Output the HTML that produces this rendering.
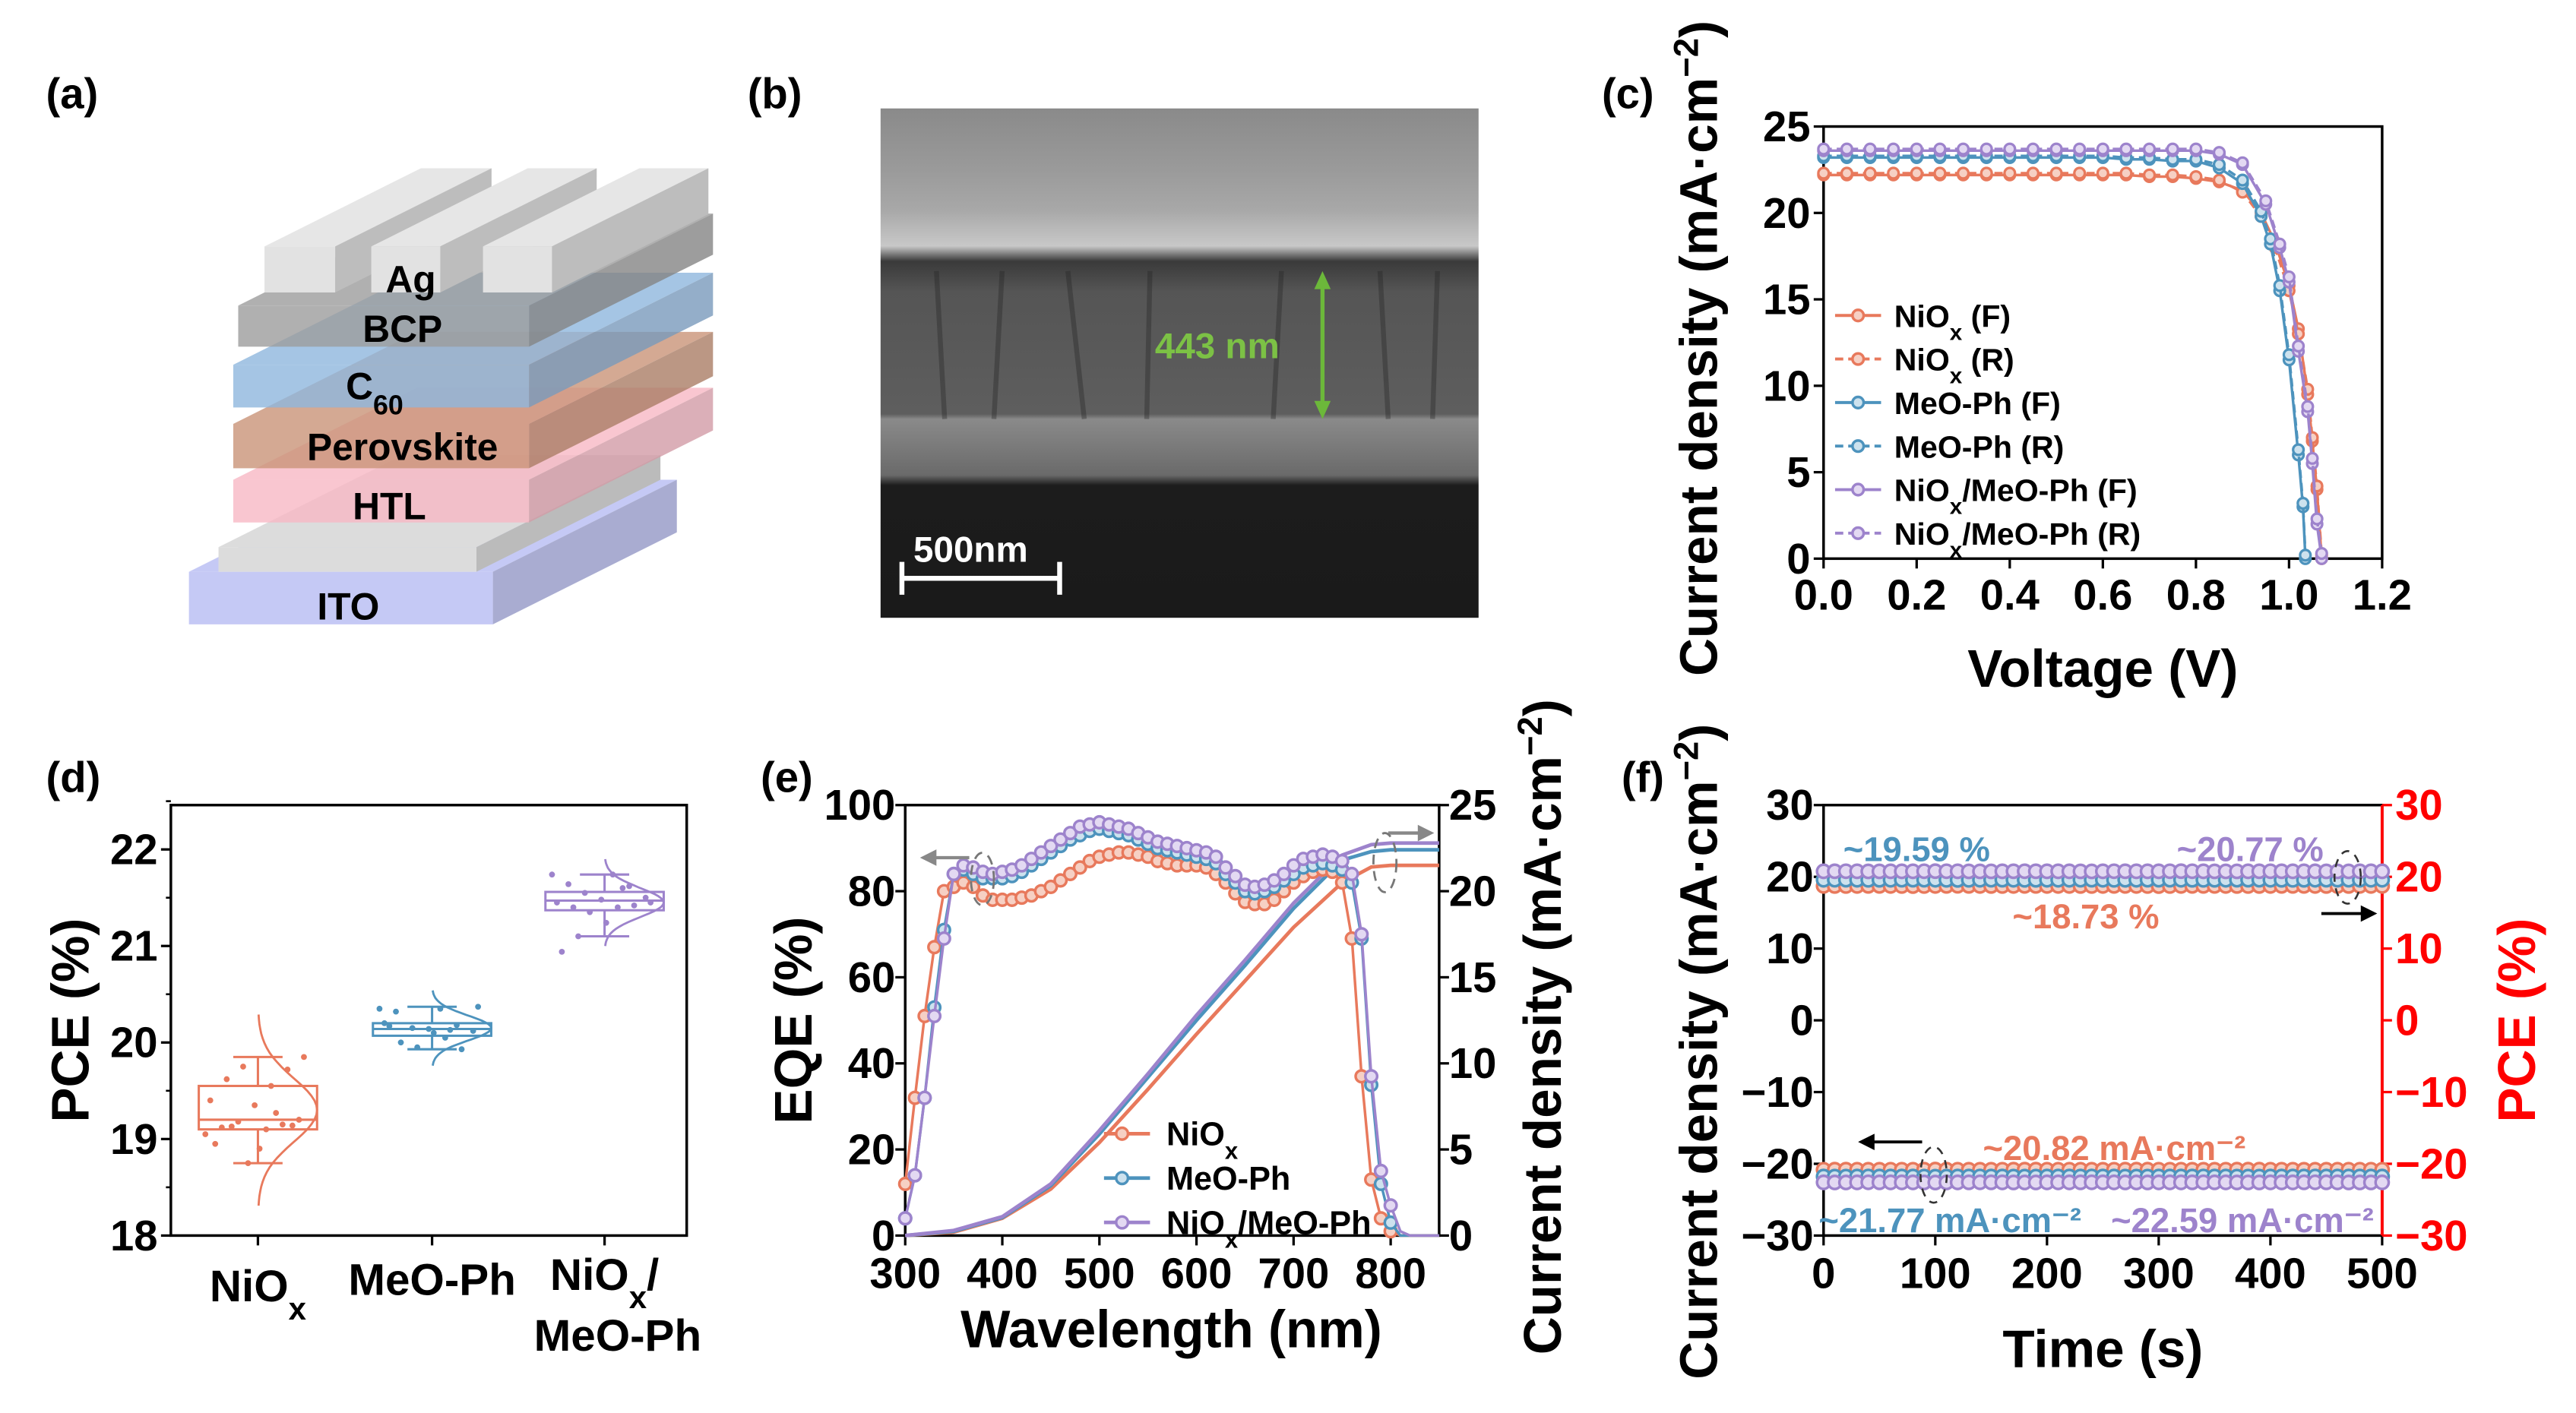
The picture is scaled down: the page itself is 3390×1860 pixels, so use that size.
<!DOCTYPE html>
<html><head><meta charset="utf-8">
<style>
html,body{margin:0;padding:0;background:#fff;}
svg{display:block;}
text{font-family:"Liberation Sans",Arial,sans-serif;font-weight:bold;}
</style></head>
<body>
<svg id="fig" xmlns="http://www.w3.org/2000/svg" width="3390" height="1860" viewBox="0 0 1568 860" preserveAspectRatio="none">
<defs>
<linearGradient id="semg" x1="0" y1="0" x2="0" y2="1">
<stop offset="0" stop-color="#8a8a8a"/><stop offset="0.12" stop-color="#9a9a9a"/>
<stop offset="0.2" stop-color="#a8a8a8"/><stop offset="0.27" stop-color="#c8c8c8"/>
<stop offset="0.3" stop-color="#3a3a3a"/><stop offset="0.36" stop-color="#555"/>
<stop offset="0.6" stop-color="#5e5e5e"/><stop offset="0.61" stop-color="#8a8a8a"/>
<stop offset="0.72" stop-color="#6a6a6a"/><stop offset="0.74" stop-color="#1c1c1c"/>
<stop offset="1" stop-color="#1a1a1a"/>
</linearGradient>
</defs>

<text x="28" y="66" font-size="26">(a)</text>
<text x="455" y="66" font-size="26">(b)</text>
<text x="975" y="66" font-size="26">(c)</text>
<text x="28" y="482" font-size="26">(d)</text>
<text x="463" y="482" font-size="26">(e)</text>
<text x="987" y="482" font-size="26">(f)</text>

<g id="stack"></g>

<g>
<rect x="536" y="66" width="364" height="310" fill="url(#semg)"/>
<g opacity="0.35" stroke="#222" stroke-width="3">
<line x1="570" y1="165" x2="575" y2="255"/><line x1="610" y1="165" x2="605" y2="255"/>
<line x1="650" y1="165" x2="660" y2="255"/><line x1="700" y1="165" x2="698" y2="255"/>
<line x1="780" y1="165" x2="775" y2="255"/><line x1="840" y1="165" x2="845" y2="255"/>
<line x1="875" y1="165" x2="872" y2="255"/>
</g>
<line x1="805" y1="170" x2="805" y2="250" stroke="#6cb83a" stroke-width="2.5"/>
<polygon points="805,165 800,176 810,176" fill="#6cb83a"/>
<polygon points="805,255 800,244 810,244" fill="#6cb83a"/>
<text x="703" y="218" font-size="22" fill="#7cc145">443 nm</text>
<text x="556" y="342" font-size="22" fill="#fff">500nm</text>
<line x1="549" y1="352" x2="645" y2="352" stroke="#fff" stroke-width="3"/>
<line x1="549" y1="342" x2="549" y2="362" stroke="#fff" stroke-width="3"/>
<line x1="645" y1="342" x2="645" y2="362" stroke="#fff" stroke-width="3"/>
</g>

<g id="pc"></g>
<g id="pd"></g>
<g id="pe"></g>
<g id="pf"></g>
</svg>

<script>
const jvV_flat = [0,0.05,0.1,0.15,0.2,0.25,0.3,0.35,0.4,0.45,0.5,0.55,0.6,0.65,0.7,0.75,0.8];
const jvV_NiOx = [0.85,0.9,0.94,0.97,1.0,1.02,1.04,1.05,1.06,1.07];
const jvJ_NiOxF = [22.2,22.2,22.2,22.2,22.2,22.2,22.2,22.2,22.2,22.2,22.2,22.2,22.2,22.2,22.1,22.1,22.0, 21.8,21.3,20.0,18.3,15.8,13.3,9.5,6.8,4.0,0];
const jvJ_NiOxR = [22.3,22.3,22.3,22.3,22.3,22.3,22.3,22.3,22.3,22.3,22.3,22.3,22.3,22.3,22.2,22.2,22.1, 21.9,21.2,19.8,18.0,15.5,13.0,9.8,7.0,4.2,0.2];
const jvV_MeO = [0.85,0.9,0.94,0.96,0.98,1.0,1.02,1.03,1.035];
const jvJ_MeOF = [23.2,23.2,23.2,23.2,23.2,23.2,23.2,23.2,23.2,23.2,23.2,23.2,23.2,23.1,23.1,23.0,23.0, 22.6,21.7,19.8,18.2,15.5,11.5,6.0,3.0,0];
const jvJ_MeOR = [23.3,23.3,23.3,23.3,23.3,23.3,23.3,23.3,23.3,23.3,23.3,23.3,23.3,23.2,23.2,23.1,23.1, 22.8,21.9,20.1,18.5,15.8,11.8,6.3,3.2,0.2];
const jvV_Both = [0.85,0.9,0.95,0.98,1.0,1.02,1.04,1.05,1.06,1.07];
const jvJ_BothF = [23.6,23.6,23.6,23.6,23.6,23.6,23.6,23.6,23.6,23.6,23.6,23.6,23.6,23.6,23.6,23.6,23.6, 23.4,22.8,20.5,18.0,16.0,12.0,8.5,5.5,2.0,0];
const jvJ_BothR = [23.7,23.7,23.7,23.7,23.7,23.7,23.7,23.7,23.7,23.7,23.7,23.7,23.7,23.7,23.7,23.7,23.7, 23.5,22.9,20.7,18.2,16.3,12.3,8.8,5.8,2.3,0.3];
const jvLegend = ["NiO|x| (F)","NiO|x| (R)","MeO-Ph (F)","MeO-Ph (R)","NiO|x|/MeO-Ph (F)","NiO|x|/MeO-Ph (R)"];
const jvXTicks = [0,0.2,0.4,0.6,0.8,1.0,1.2];
const jvYTicks = [0,5,10,15,20,25];

const pceCats = ["NiOx","MeO-Ph","NiOx/MeO-Ph"];
const pceMin = [18.75,19.93,21.1];
const pceQ1 = [19.1,20.07,21.37];
const pceMed = [19.2,20.14,21.47];
const pceQ3 = [19.55,20.2,21.56];
const pceMax = [19.85,20.37,21.74];
const pceMean = [19.3,20.15,21.45];
const pceSd = [0.33,0.13,0.15];
const pcePts0 = [19.05,19.1,19.12,19.15,19.18,19.2,19.35,19.4,19.55,19.62,19.72,19.75,19.85,18.9,18.95,19.27,19.13,19.14,18.75];
const pcePts1 = [20.35,20.35,20.32,20.18,20.15,20.12,20.14,20.2,20.05,20.0,19.93,19.95,20.37,20.1,20.17,20.13];
const pcePts2 = [21.74,21.74,21.64,21.62,21.55,21.5,21.48,21.45,21.4,21.4,21.42,21.35,21.45,21.24,20.94,21.6,21.1];
const pceYTicks = [18,19,20,21,22];

const eqeWl = [300,310,320,330,340,350,360,370,380,390,400,410,420,430,440,450,460,470,480,490,500,510,520,530,540,550,560,570,580,590,600,610,620,630,640,650,660,670,680,690,700,710,720,730,740,750,760,770,780,790,800,810,820,830,840,850];
const eqeNiOx = [12,32,51,67,80,81,82,81,79,78,78,78,78.5,79,80,81,82.5,84,85.5,87,88,88.5,89,89,88.5,88,87,86.5,86,86,86,85.5,84,82,79.5,77.5,77,77,78,80,82,83.5,84.5,85,84.5,82,69,37,13,4,1,0,0,0,0,0];
const eqeMeO = [4,14,32,53,71,84,85,84,83,83,83,83.5,84.5,86,87.5,89,90.5,92,93,94,94.5,94,93.5,93,92,91,90,89.5,89,88.5,88,87.5,86.5,84,82,80,79.5,80,81,82.5,84,85.5,86,86.5,86,85,82,69,35,12,3,0,0,0,0,0];
const eqeBoth = [4,14,32,51,69,84,86,85.5,84.5,84,84.5,85,86,87.5,89,90.5,92,93.5,95,95.5,96,95.5,95,94.5,93.5,92.5,91.5,91,90.5,90,89.5,89,88,85.5,83.5,81.5,81,81.5,82.5,84,86,87.5,88,88.5,88,87,84,70,37,15,7,1,0,0,0,0];
const jscWl = [300,350,400,450,500,550,600,650,700,750,780,800,850];
const jscNiOx = [0,0.2,1.0,2.7,5.4,8.5,11.7,14.8,17.9,20.5,21.4,21.5,21.5];
const jscMeO = [0,0.25,1.05,2.9,5.9,9.2,12.5,15.7,19.0,21.8,22.3,22.4,22.4];
const jscBoth = [0,0.3,1.1,3.0,6.1,9.4,12.8,16.0,19.3,22.1,22.7,22.8,22.8];
const eqeXTicks = [300,400,500,600,700,800];
const eqeYTicks = [0,20,40,60,80,100];
const jscYTicks = [0,5,10,15,20,25];

const stTime = [0,20,40,60,80,100,120,140,160,180,200,220,240,260,280,300,320,340,360,380,400,420,440,460,480,500];
const stPceNiOx = [18.73,18.72,18.74,18.73,18.71,18.73,18.75,18.73,18.72,18.74,18.73,18.73,18.72,18.74,18.73,18.71,18.73,18.74,18.73,18.72,18.73,18.74,18.73,18.72,18.73,18.73];
const stPceMeO = [19.59,19.6,19.58,19.59,19.6,19.59,19.57,19.59,19.6,19.58,19.59,19.59,19.6,19.58,19.59,19.6,19.59,19.58,19.59,19.6,19.59,19.58,19.59,19.6,19.59,19.59];
const stPceBoth = [20.77,20.78,20.76,20.77,20.77,20.79,20.77,20.76,20.77,20.78,20.77,20.77,20.76,20.78,20.77,20.77,20.79,20.77,20.76,20.77,20.78,20.77,20.77,20.76,20.77,20.77];
const stJNiOx = [-20.82,-20.81,-20.83,-20.82,-20.82,-20.8,-20.82,-20.83,-20.82,-20.81,-20.82,-20.82,-20.83,-20.82,-20.81,-20.82,-20.82,-20.83,-20.82,-20.81,-20.82,-20.82,-20.83,-20.82,-20.82,-20.82];
const stJMeO = [-21.77,-21.78,-21.76,-21.77,-21.77,-21.79,-21.77,-21.76,-21.77,-21.78,-21.77,-21.77,-21.76,-21.77,-21.78,-21.77,-21.77,-21.76,-21.77,-21.78,-21.77,-21.77,-21.76,-21.77,-21.77,-21.77];
const stJBoth = [-22.59,-22.6,-22.58,-22.59,-22.59,-22.61,-22.59,-22.58,-22.59,-22.6,-22.59,-22.59,-22.58,-22.59,-22.6,-22.59,-22.59,-22.58,-22.59,-22.6,-22.59,-22.59,-22.58,-22.59,-22.6,-22.59];
const stXTicks = [0,100,200,300,400,500];
const stYTicks = [-30,-20,-10,0,10,20,30];

const NS = "http://www.w3.org/2000/svg";
const C_OR = "#e8795c", C_BL = "#4d93bd", C_PU = "#9d83cc";
const TINT = {"#e8795c":"#f6d0c4","#4d93bd":"#cde2ee","#9d83cc":"#e3d9f2"};
const TF = 26, AF = 32;
function el(tag, attrs, parent){
  const e = document.createElementNS(NS, tag);
  for (const k in attrs) e.setAttribute(k, attrs[k]);
  parent.appendChild(e);
  return e;
}
function lin(d0,d1,r0,r1){ return v => r0 + (v-d0)*(r1-r0)/(d1-d0); }
function richText(parent, x, y, str, size, fill, anchor){
  const t = el("text", {x:x, y:y, "font-size":size, fill:fill||"#000", "text-anchor":anchor||"start"}, parent);
  const parts = str.split("|");
  parts.forEach((p,i)=>{
    if(!p) return;
    const ts = el("tspan", {}, t);
    if(i%2===1){ ts.setAttribute("baseline-shift","sub"); ts.setAttribute("font-size", size*0.72); }
    ts.textContent = p;
  });
  return t;
}
function frame(g, x0,y0,x1,y1){
  el("rect",{x:x0,y:y0,width:x1-x0,height:y1-y0,fill:"none",stroke:"#000","stroke-width":1.6},g);
}

(function(){
  const g = document.getElementById("stack");
  const dx=112, dy=-56;
  function slab(x0,x1,yt,yb,fill,op,name){
    const s = el("g",{},g);
    
    
    el("polygon",{points:`${x0},${yt} ${x1},${yt} ${x1+dx},${yt+dy} ${x0+dx},${yt+dy}`,fill:fill,opacity:op},s);
    el("polygon",{points:`${x1},${yt} ${x1+dx},${yt+dy} ${x1+dx},${yb+dy} ${x1},${yb}`,fill:fill,opacity:op,style:"filter:brightness(0.85)"},s);
    el("rect",{x:x0,y:yt,width:x1-x0,height:yb-yt,fill:fill,opacity:op},s);
  }
  slab(115,300,348,380,"#c2c6f4",0.95,"layer-ito");
  slab(133,290,333,348,"#dcdcdc",1,"ito-contact");
  slab(142,322,292,318,"#f8b8c4",0.8,"layer-htl");
  slab(142,322,258,285,"#c99478",0.8,"layer-perovskite");
  slab(142,322,222,248,"#8fb6dd",0.8,"layer-c60");
  slab(145,322,186,211,"#9c9c9c",0.8,"layer-bcp");
  [[161,204],[226,268],[294,336]].forEach((b,i)=>{
    const s = el("g",{},g);
    
    
    el("polygon",{points:`${b[0]},150 ${b[1]},150 ${b[1]+dx*0.85},${150+dy*0.85} ${b[0]+dx*0.85},${150+dy*0.85}`,fill:"#e6e6e6"},s);
    el("polygon",{points:`${b[1]},150 ${b[1]+dx*0.85},${150+dy*0.85} ${b[1]+dx*0.85},${178+dy*0.85} ${b[1]},178`,fill:"#bdbdbd"},s);
    el("rect",{x:b[0],y:150,width:b[1]-b[0],height:28,fill:"#e2e2e2"},s);
  });
  const labs = [["Ag",250,178],["BCP",245,208],["C|60|",228,243],["Perovskite",245,280],["HTL",237,316],["ITO",212,377]];
  labs.forEach(l=>{ const t=richText(g,l[1],l[2],l[0],23,"#000","middle");   });
})();

(function(){
  const g = document.getElementById("pc");
  const X0=1110,X1=1450,Y0=77,Y1=340;
  const sx = lin(0,1.2,X0,X1), sy = lin(0,25,Y1,Y0);
  frame(g,X0,Y0,X1,Y1);
  jvXTicks.forEach(v=>{
    el("line",{x1:sx(v),y1:Y1,x2:sx(v),y2:Y1+6,stroke:"#000","stroke-width":1.5},g);
    const t = el("text",{x:sx(v),y:Y1+31,"font-size":TF,"text-anchor":"middle"},g);
     
    t.textContent = v.toFixed(1);
  });
  jvYTicks.forEach(v=>{
    el("line",{x1:X0-6,y1:sy(v),x2:X0,y2:sy(v),stroke:"#000","stroke-width":1.5},g);
    const t = el("text",{x:X0-8,y:sy(v)+9,"font-size":TF,"text-anchor":"end"},g);
     
    t.textContent = v;
  });
  const xt = el("text",{x:1280,y:418,"font-size":AF,"text-anchor":"middle"},g);
   
  xt.textContent = "Voltage (V)";
  const yt = el("text",{x:0,y:0,"font-size":AF,"text-anchor":"middle",transform:"translate(1045,212) rotate(-90)"},g);
   
  yt.innerHTML = 'Current density (mA·cm<tspan baseline-shift="super" font-size="21">−2</tspan>)';
  const series = [
    [jvV_flat.concat(jvV_NiOx), jvJ_NiOxF, C_OR, false],
    [jvV_flat.concat(jvV_NiOx), jvJ_NiOxR, C_OR, true],
    [jvV_flat.concat(jvV_MeO), jvJ_MeOF, C_BL, false],
    [jvV_flat.concat(jvV_MeO), jvJ_MeOR, C_BL, true],
    [jvV_flat.concat(jvV_Both), jvJ_BothF, C_PU, false],
    [jvV_flat.concat(jvV_Both), jvJ_BothR, C_PU, true]];
  series.forEach((s,si)=>{
    const V=s[0], J=s[1];
    const d = V.map((v,i)=>(i?"L":"M")+sx(v).toFixed(1)+","+sy(J[i]).toFixed(1)).join(" ");
    const p = el("path",{d:d,fill:"none",stroke:s[2],"stroke-width":1.6,"stroke-dasharray":s[3]?"5,3":"none"},g);
     
    V.forEach((v,i)=>{
      const c = el("circle",{cx:sx(v),cy:sy(J[i]),r:3.2,fill:TINT[s[2]],stroke:s[2],"stroke-width":1.5},g);
       
    });
  });
  const cols=[C_OR,C_OR,C_BL,C_BL,C_PU,C_PU];
  jvLegend.forEach((lab,i)=>{
    const y = 192 + i*26.5;
    const lg = el("g",{},g);
     
    el("line",{x1:1117,y1:y,x2:1145,y2:y,stroke:cols[i],"stroke-width":1.8,"stroke-dasharray":i%2?"5,3":"none"},lg);
    el("circle",{cx:1131,cy:y,r:3.4,fill:TINT[cols[i]],stroke:cols[i],"stroke-width":1.6},lg);
    richText(lg,1153,y+7,lab,19,"#000","start");
  });
})();

(function(){
  const g = document.getElementById("pd");
  const X0=104,X1=418,Y0=490,Y1=752;
  const sy = lin(18,22,Y1,517);
  const cx = [157,263,368];
  const cols=[C_OR,C_BL,C_PU];
  frame(g,X0,Y0,X1,Y1);
  pceYTicks.forEach(v=>{
    el("line",{x1:X0-6,y1:sy(v),x2:X0,y2:sy(v),stroke:"#000","stroke-width":1.5},g);
    el("line",{x1:X0-3,y1:sy(v+0.5),x2:X0,y2:sy(v+0.5),stroke:"#000","stroke-width":1.2},g);
    const t = el("text",{x:X0-8,y:sy(v)+9,"font-size":TF,"text-anchor":"end"},g);
     
    t.textContent = v;
  });
  const yt = el("text",{x:0,y:0,"font-size":AF,"text-anchor":"middle",transform:"translate(54,621) rotate(-90)"},g);
   
  yt.textContent = "PCE (%)";
  cx.forEach(x=>el("line",{x1:x,y1:Y1,x2:x,y2:Y1+6,stroke:"#000","stroke-width":1.5},g));
  let t = richText(g,cx[0],792,"NiO|x|",27,"#000","middle");  
  t = richText(g,cx[1],788,"MeO-Ph",27,"#000","middle");  
  t = richText(g,cx[2],785,"NiO|x|/",27,"#000","middle");  
  t = richText(g,cx[2]+8,822,"MeO-Ph",27,"#000","middle");  
  const pts=[pcePts0,pcePts1,pcePts2];
  pceCats.forEach((c,i)=>{
    const x=cx[i], col=cols[i], hw=36;
    const bg = el("g",{},g);
     
    el("line",{x1:x,y1:sy(pceMin[i]),x2:x,y2:sy(pceMax[i]),stroke:col,"stroke-width":1.4},bg);
    el("line",{x1:x-15,y1:sy(pceMin[i]),x2:x+15,y2:sy(pceMin[i]),stroke:col,"stroke-width":1.4},bg);
    el("line",{x1:x-15,y1:sy(pceMax[i]),x2:x+15,y2:sy(pceMax[i]),stroke:col,"stroke-width":1.4},bg);
    el("rect",{x:x-hw,y:sy(pceQ3[i]),width:2*hw,height:sy(pceQ1[i])-sy(pceQ3[i]),fill:"#fff",stroke:col,"stroke-width":1.4},bg);
    el("line",{x1:x-hw,y1:sy(pceMed[i]),x2:x+hw,y2:sy(pceMed[i]),stroke:col,"stroke-width":1.4},bg);
    pts[i].forEach((v,k)=>{
      const jx = x - hw + 4 + ((k*37)%(2*hw-8));
      const c2 = el("circle",{cx:jx,cy:sy(v),r:1.8,fill:col},bg);
       
    });
    let d="";
    const lo = pceMean[i]-3*pceSd[i], hi = pceMean[i]+3*pceSd[i];
    for(let k=0;k<=40;k++){
      const v = lo + (hi-lo)*k/40;
      const z=(v-pceMean[i])/pceSd[i];
      d += (k?"L":"M")+(x+hw*Math.exp(-z*z/2)).toFixed(1)+","+sy(v).toFixed(1);
    }
    el("path",{d:d,fill:"none",stroke:col,"stroke-width":1.3},bg);
  });
})();

(function(){
  const g = document.getElementById("pe");
  const X0=551,X1=876,Y0=490,Y1=752;
  const sx = lin(300,800,X0,846.5), sy = lin(0,100,Y1,Y0), sy2 = lin(0,25,Y1,Y0);
  frame(g,X0,Y0,X1,Y1);
  eqeXTicks.forEach(v=>{
    el("line",{x1:sx(v),y1:Y1,x2:sx(v),y2:Y1+6,stroke:"#000","stroke-width":1.5},g);
    const t = el("text",{x:sx(v),y:Y1+32,"font-size":TF,"text-anchor":"middle"},g);
     
    t.textContent = v;
  });
  eqeYTicks.forEach(v=>{
    el("line",{x1:X0-6,y1:sy(v),x2:X0,y2:sy(v),stroke:"#000","stroke-width":1.5},g);
    const t = el("text",{x:X0-6,y:sy(v)+9,"font-size":TF,"text-anchor":"end"},g);
     
    t.textContent = v;
  });
  jscYTicks.forEach(v=>{
    el("line",{x1:X1,y1:sy2(v),x2:X1+6,y2:sy2(v),stroke:"#000","stroke-width":1.5},g);
    const t = el("text",{x:X1+6,y:sy2(v)+9,"font-size":TF,"text-anchor":"start"},g);
     
    t.textContent = v;
  });
  let t = el("text",{x:713,y:820,"font-size":AF,"text-anchor":"middle"},g);
   
  t.textContent = "Wavelength (nm)";
  t = el("text",{x:0,y:0,"font-size":AF,"text-anchor":"middle",transform:"translate(494,621) rotate(-90)"},g);
   
  t.textContent = "EQE (%)";
  t = el("text",{x:0,y:0,"font-size":AF,"text-anchor":"middle",transform:"translate(950,625) rotate(-90)"},g);
   
  t.innerHTML = 'Current density (mA·cm<tspan baseline-shift="super" font-size="21">−2</tspan>)';
  const cols=[C_OR,C_BL,C_PU];
  [jscNiOx,jscMeO,jscBoth].forEach((s,i)=>{
    const d = jscWl.map((w,k)=>(k?"L":"M")+sx(w).toFixed(1)+","+sy2(s[k]).toFixed(1)).join(" ");
    const p = el("path",{d:d,fill:"none",stroke:cols[i],"stroke-width":2.2},g);
     
  });
  [eqeNiOx,eqeMeO,eqeBoth].forEach((s,i)=>{
    const d = eqeWl.map((w,k)=>(k?"L":"M")+sx(w).toFixed(1)+","+sy(s[k]).toFixed(1)).join(" ");
    const p = el("path",{d:d,fill:"none",stroke:cols[i],"stroke-width":1.6},g);
     
    eqeWl.forEach((w,k)=>{
      if(w>805) return;
      const c = el("circle",{cx:sx(w),cy:sy(s[k]),r:3.6,fill:TINT[cols[i]],stroke:cols[i],"stroke-width":1.6},g);
       
    });
  });
  el("line",{x1:567,y1:522,x2:590,y2:522,stroke:"#888","stroke-width":2},g);
  el("polygon",{points:"560,522 570,517 570,527",fill:"#888"},g);
  el("ellipse",{cx:598,cy:535,rx:7,ry:16,fill:"none",stroke:"#777","stroke-width":1.3,"stroke-dasharray":"6,4"},g);
  el("line",{x1:845,y1:507,x2:866,y2:507,stroke:"#888","stroke-width":2},g);
  el("polygon",{points:"873,507 863,502 863,512",fill:"#888"},g);
  el("ellipse",{cx:843,cy:525,rx:7,ry:18,fill:"none",stroke:"#777","stroke-width":1.3,"stroke-dasharray":"6,4"},g);
  const legs=["NiO|x|","MeO-Ph","NiO|x|/MeO-Ph"];
  legs.forEach((l,i)=>{
    const y=690+i*27;
    const lg = el("g",{},g);
     
    el("line",{x1:672,y1:y,x2:700,y2:y,stroke:cols[i],"stroke-width":2.2},lg);
    el("circle",{cx:683,cy:y,r:3.6,fill:TINT[cols[i]],stroke:cols[i],"stroke-width":1.6},lg);
    richText(lg,710,y+7,l,20,"#000","start");
  });
})();

(function(){
  const g = document.getElementById("pf");
  const X0=1110,X1=1450,Y0=490,Y1=752;
  const sx = lin(0,500,X0,X1), sy = lin(-30,30,Y1,Y0);
  frame(g,X0,Y0,X1,Y1);
  el("line",{x1:X1,y1:Y0,x2:X1,y2:Y1,stroke:"#f00","stroke-width":1.8},g);
  stXTicks.forEach(v=>{
    el("line",{x1:sx(v),y1:Y1,x2:sx(v),y2:Y1+6,stroke:"#000","stroke-width":1.5},g);
    const t = el("text",{x:sx(v),y:Y1+32,"font-size":TF,"text-anchor":"middle"},g);
     
    t.textContent = v;
  });
  stYTicks.forEach(v=>{
    el("line",{x1:X0-6,y1:sy(v),x2:X0,y2:sy(v),stroke:"#000","stroke-width":1.5},g);
    let t = el("text",{x:X0-6,y:sy(v)+9,"font-size":TF,"text-anchor":"end"},g);
     
    t.textContent = v<0 ? "−"+(-v) : v;
    el("line",{x1:X1,y1:sy(v),x2:X1+6,y2:sy(v),stroke:"#f00","stroke-width":1.5},g);
    t = el("text",{x:X1+8,y:sy(v)+9,"font-size":TF,"text-anchor":"start",fill:"#f00"},g);
     
    t.textContent = v<0 ? "−"+(-v) : v;
  });
  let t = el("text",{x:1280,y:832,"font-size":AF,"text-anchor":"middle"},g);
   
  t.textContent = "Time (s)";
  t = el("text",{x:0,y:0,"font-size":AF,"text-anchor":"middle",transform:"translate(1045,640) rotate(-90)"},g);
   
  t.innerHTML = 'Current density (mA·cm<tspan baseline-shift="super" font-size="21">−2</tspan>)';
  t = el("text",{x:0,y:0,"font-size":AF,"text-anchor":"middle",fill:"#f00",transform:"translate(1543,621) rotate(-90)"},g);
   
  t.textContent = "PCE (%)";
  const cols=[C_OR,C_BL,C_PU];
  [[stPceNiOx,stJNiOx],[stPceMeO,stJMeO],[stPceBoth,stJBoth]].forEach((pair,i)=>{
    pair.forEach(s=>{
      const d = stTime.map((tm,k)=>(k?"L":"M")+sx(tm).toFixed(1)+","+sy(s[k]).toFixed(1)).join(" ");
      const p = el("path",{d:d,fill:"none",stroke:cols[i],"stroke-width":1.6},g);
       
      stTime.forEach((tm,k)=>{
        const c = el("circle",{cx:sx(tm),cy:sy(s[k]),r:4,fill:TINT[cols[i]],stroke:cols[i],"stroke-width":1.6},g);
         
        if(k<stTime.length-1){
          const c2 = el("circle",{cx:(sx(tm)+sx(stTime[k+1]))/2,cy:(sy(s[k])+sy(s[k+1]))/2,r:4,fill:TINT[cols[i]],stroke:cols[i],"stroke-width":1.6},g);
           
        }
      });
    });
  });
  const ann = [["~19.59 %",1122,524,C_BL],["~20.77 %",1325,524,C_PU],["~18.73 %",1225,565,C_OR],
               ["~20.82 mA·cm⁻²",1207,706,C_OR],["~21.77 mA·cm⁻²",1107,750,C_BL],["~22.59 mA·cm⁻²",1285,750,C_PU]];
  ann.forEach(a=>{
    const tt = el("text",{x:a[1],y:a[2],"font-size":21,fill:a[3]},g);
     
    tt.textContent = a[0];
  });
  el("line",{x1:1413,y1:556,x2:1440,y2:556,stroke:"#000","stroke-width":1.8},g);
  el("polygon",{points:"1447,556 1437,551 1437,561",fill:"#000"},g);
  el("ellipse",{cx:1429,cy:534,rx:8,ry:16,fill:"none",stroke:"#333","stroke-width":1.2,"stroke-dasharray":"5,4"},g);
  el("line",{x1:1138,y1:695,x2:1170,y2:695,stroke:"#000","stroke-width":1.8},g);
  el("polygon",{points:"1131,695 1141,690 1141,700",fill:"#000"},g);
  el("ellipse",{cx:1177,cy:715,rx:8,ry:17,fill:"none",stroke:"#333","stroke-width":1.2,"stroke-dasharray":"5,4"},g);
})();
</script>
</body></html>
